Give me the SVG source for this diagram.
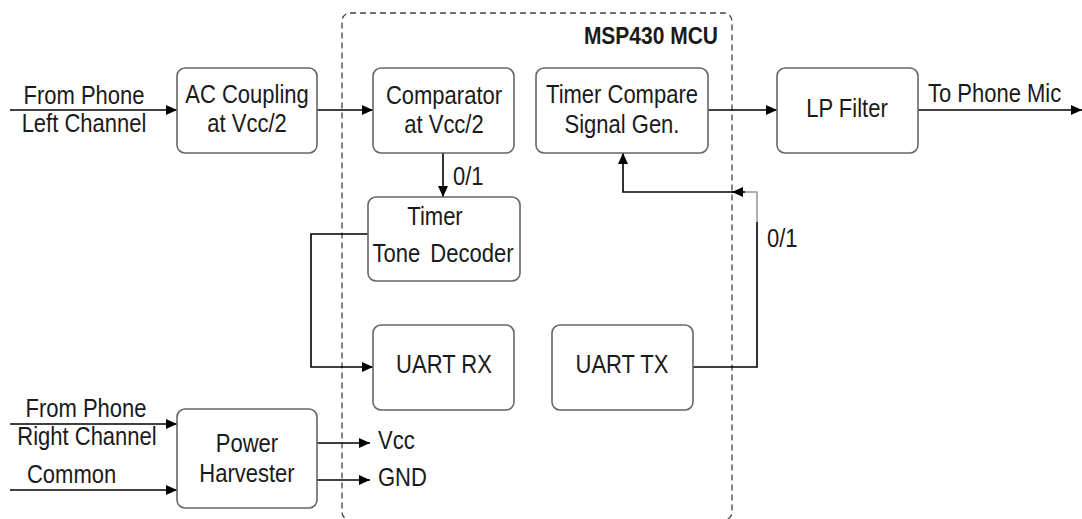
<svg xmlns="http://www.w3.org/2000/svg" width="1082" height="519" viewBox="0 0 1082 519">
<defs>
<marker id="ah" markerUnits="userSpaceOnUse" markerWidth="12" markerHeight="12" refX="11" refY="5" orient="auto">
<path d="M0,0 L11,5 L0,10 Z" fill="#000"/>
</marker>
<style>
.box{fill:#fff;stroke:#666;stroke-width:1.6}
.mcu{fill:none;stroke:#444;stroke-width:1.3;stroke-dasharray:6 4}
.t{font-family:"Liberation Sans",Arial,sans-serif;font-size:22px;fill:#1a1a1a;transform-box:fill-box;transform-origin:center;transform:scaleY(1.13)}
.c{text-anchor:middle}
.b{font-weight:bold;font-size:21px}
.ln{fill:none;stroke:#000;stroke-width:1.6}
.la{marker-end:url(#ah)}
</style>
</defs>
<rect width="1082" height="519" fill="#fff"/>
<g id="mcu">
<rect class="mcu" x="342" y="13" width="390" height="507" rx="8"/>
<text class="t b" x="718" y="43" text-anchor="end">MSP430 MCU</text>
</g>
<g id="connectors">
<path class="ln la" d="M10,110 H177"/>
<path class="ln la" d="M317,110 H373"/>
<path class="ln la" d="M443,153 V197"/>
<path class="ln la" d="M708,110 H777"/>
<path class="ln la" d="M918,110 H1082"/>
<path class="ln la" d="M368,234 H311 V367 H373"/>
<path class="ln" d="M693,367 H757 V222"/>
<path class="ln" style="stroke:#999" d="M757,222 V192 H743"/>
<path class="ln la" d="M745,192 H732"/>
<path class="ln la" d="M734,192 H623 V153"/>
<path class="ln la" d="M10,424 H177"/>
<path class="ln la" d="M10,490 H177"/>
<path class="ln la" d="M317,443 H370"/>
<path class="ln la" d="M317,480 H370"/>
<text class="t" x="453" y="184">0/1</text>
<text class="t" x="767" y="246">0/1</text>
</g>
<g id="in-left">
<text class="t c" x="84" y="103">From Phone</text>
<text class="t c" x="84" y="131">Left Channel</text>
</g>
<g id="ac-coupling">
<rect class="box" x="177" y="68" width="140" height="85" rx="8"/>
<text class="t c" x="247" y="102">AC Coupling</text>
<text class="t c" x="247" y="131">at Vcc/2</text>
</g>
<g id="comparator">
<rect class="box" x="373" y="68" width="141" height="85" rx="8"/>
<text class="t c" x="444" y="103">Comparator</text>
<text class="t c" x="444" y="132">at Vcc/2</text>
</g>
<g id="timer-compare">
<rect class="box" x="536" y="68" width="172" height="85" rx="8"/>
<text class="t c" x="622" y="102">Timer Compare</text>
<text class="t c" x="622" y="132">Signal Gen.</text>
</g>
<g id="lp-filter">
<rect class="box" x="777" y="68" width="141" height="85" rx="8"/>
<text class="t c" x="847" y="116">LP Filter</text>
</g>
<g id="out-mic">
<text class="t" x="928" y="101">To Phone Mic</text>
</g>
<g id="tone-decoder">
<rect class="box" x="368" y="197" width="152" height="84" rx="8"/>
<text class="t c" x="435" y="224">Timer</text>
<text class="t c" x="443" y="261" word-spacing="4">Tone Decoder</text>
</g>
<g id="uart-rx">
<rect class="box" x="373" y="325" width="141" height="85" rx="8"/>
<text class="t c" x="444" y="372">UART RX</text>
</g>
<g id="uart-tx">
<rect class="box" x="552" y="325" width="141" height="85" rx="8"/>
<text class="t c" x="622" y="372">UART TX</text>
</g>
<g id="in-right">
<text class="t c" x="86" y="416">From Phone</text>
<text class="t c" x="87" y="444">Right Channel</text>
<text class="t" x="27" y="482">Common</text>
</g>
<g id="power-harvester">
<rect class="box" x="177" y="409" width="140" height="99" rx="8"/>
<text class="t c" x="247" y="451">Power</text>
<text class="t c" x="247" y="481">Harvester</text>
</g>
<g id="rails">
<text class="t" x="378" y="448">Vcc</text>
<text class="t" x="378" y="485">GND</text>
</g>
</svg>
